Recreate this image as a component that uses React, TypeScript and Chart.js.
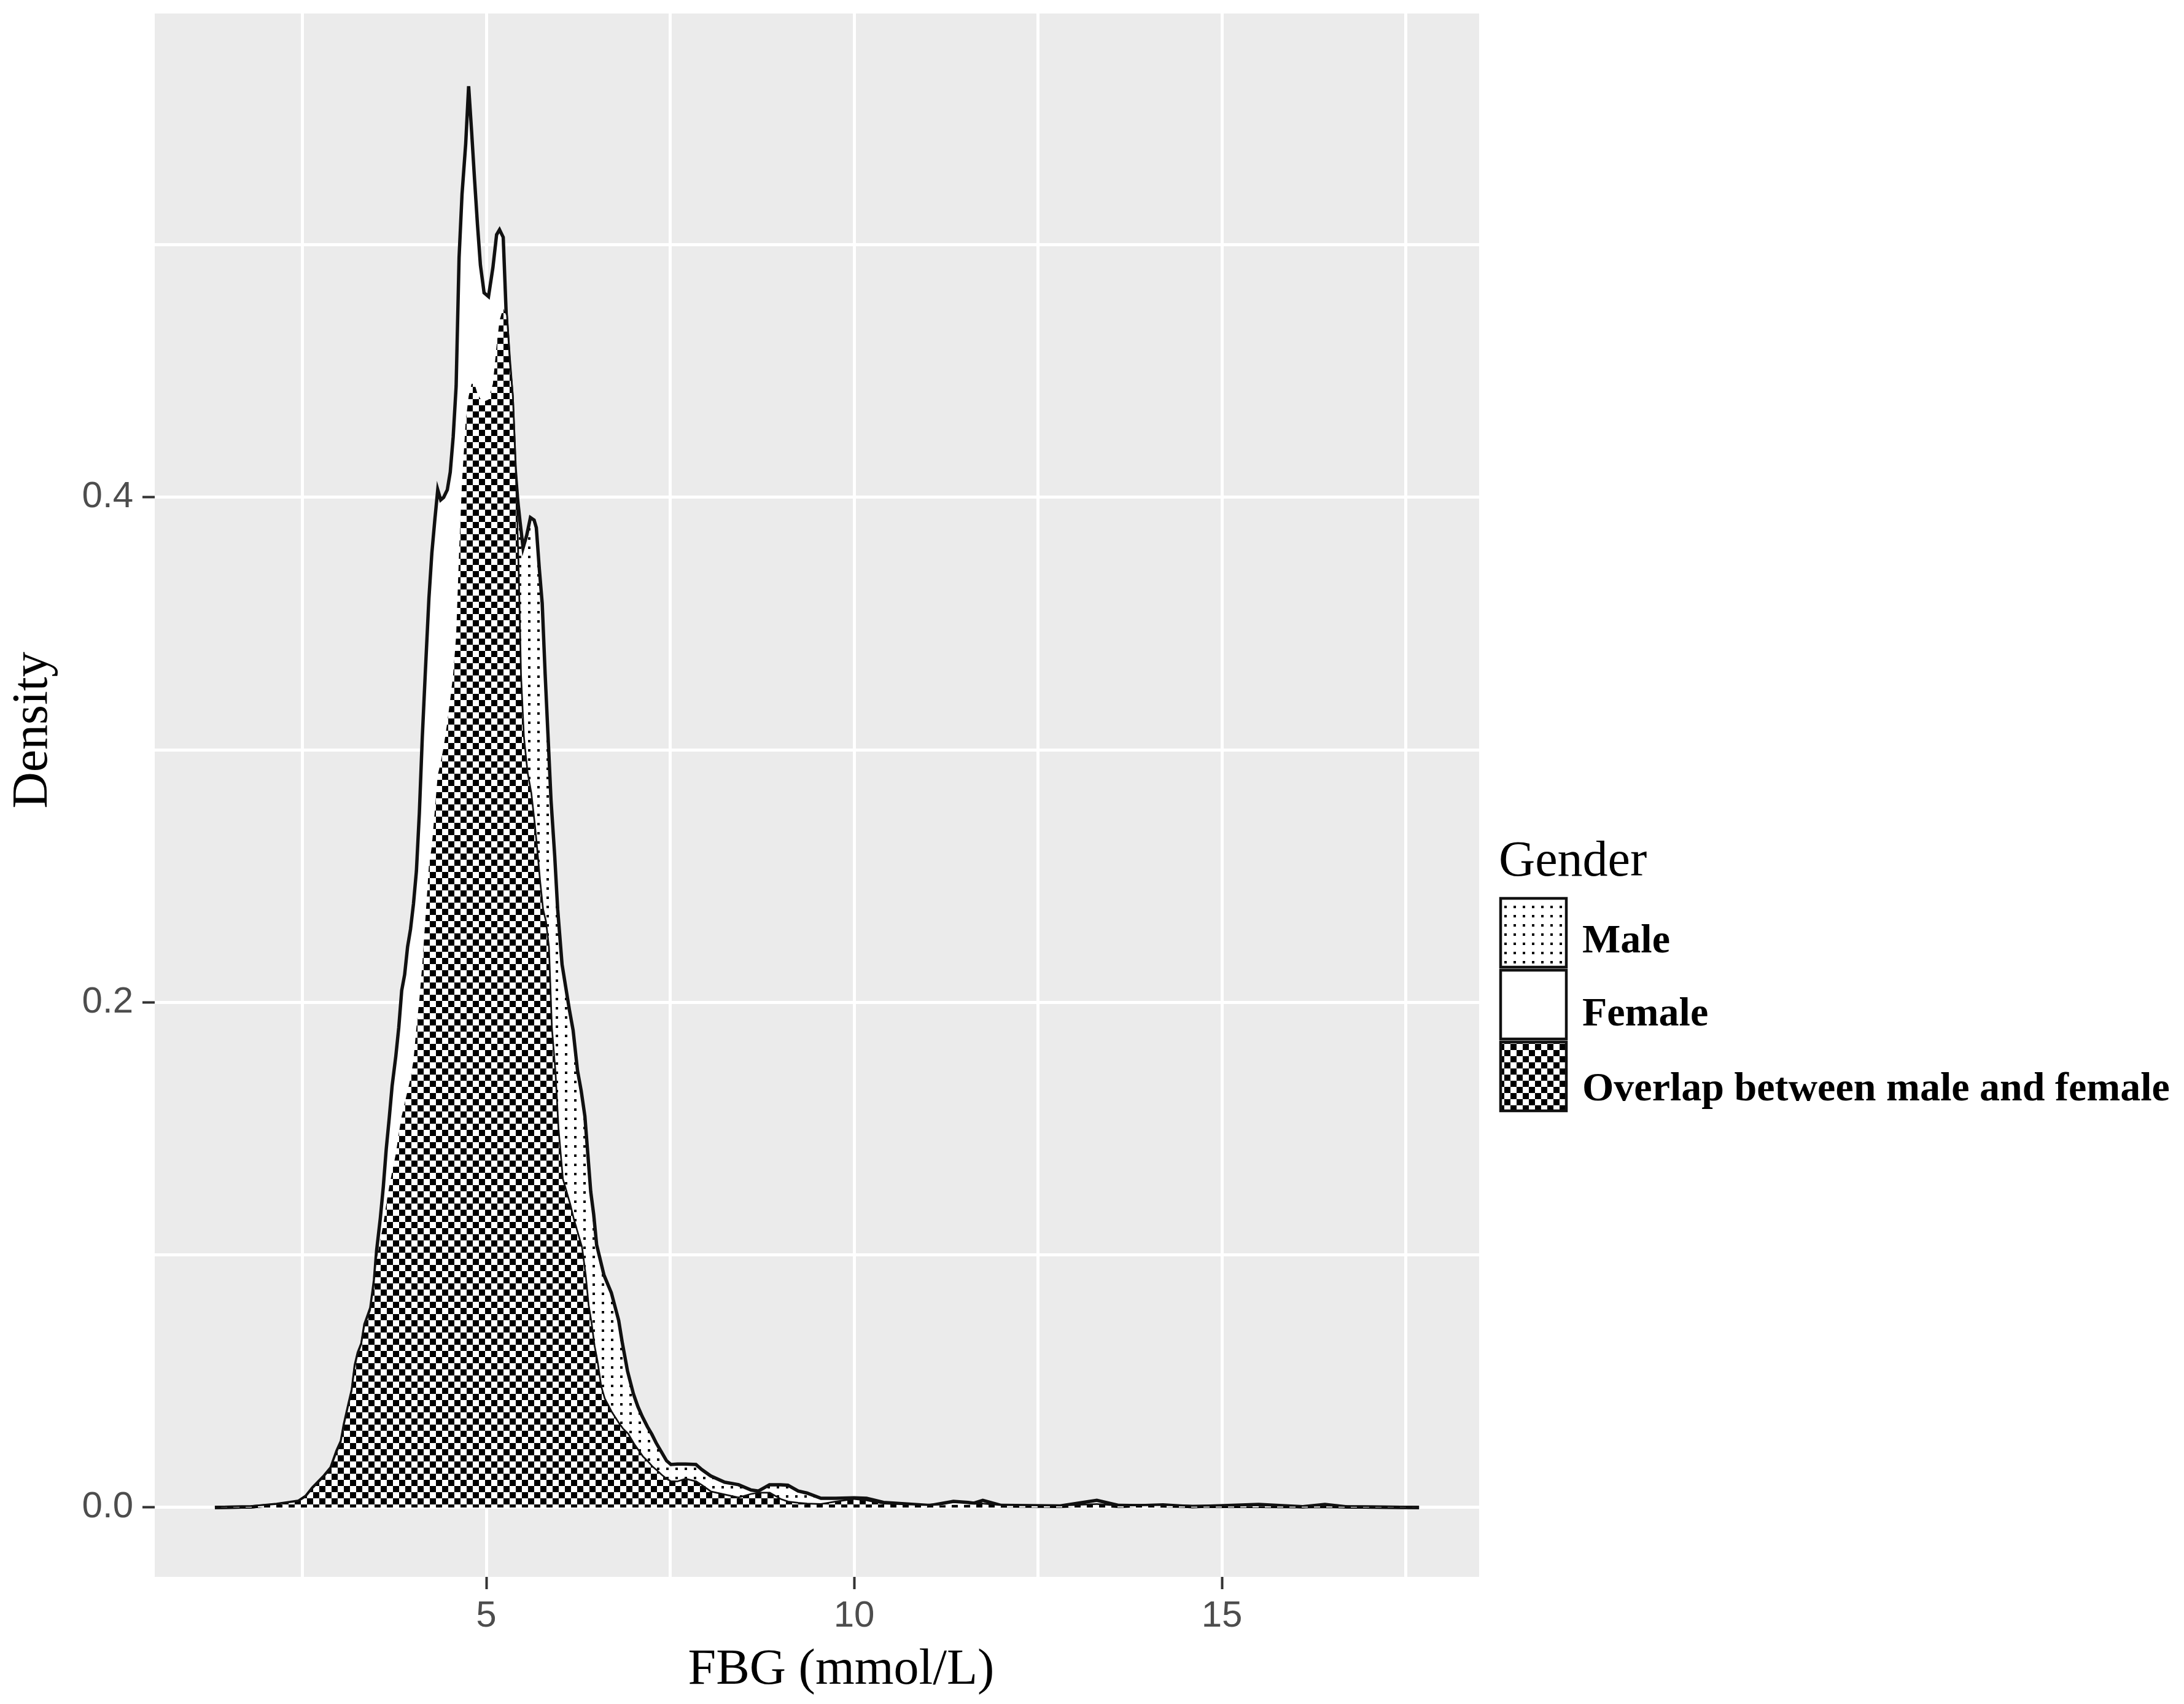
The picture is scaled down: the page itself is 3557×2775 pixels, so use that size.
import React, { useEffect, useRef } from 'react';
import { Chart, registerables } from 'chart.js';

Chart.register(...registerables);

// ---- data ----
const FBG_GRID = [
  1.31, 1.8, 2.15, 2.45, 2.55, 2.64, 2.8, 2.89, 2.97, 3.03, 3.07, 3.14, 3.18, 3.22, 3.26, 3.31, 3.35, 3.43,
  3.48, 3.51, 3.56, 3.6, 3.64, 3.68, 3.72, 3.77, 3.81, 3.85, 3.89, 3.93, 3.97, 4.01, 4.05, 4.09, 4.13,
  4.17, 4.22, 4.26, 4.3, 4.34, 4.38, 4.42, 4.47, 4.51, 4.55, 4.59, 4.63, 4.67, 4.72, 4.76, 4.8, 4.84,
  4.88, 4.92, 4.97, 5.03, 5.09, 5.14, 5.18, 5.23, 5.27, 5.31, 5.35, 5.39, 5.43, 5.46, 5.5, 5.55, 5.6,
  5.65, 5.68, 5.72, 5.76, 5.8, 5.84, 5.88, 5.93, 5.97, 6.03, 6.08, 6.13, 6.18, 6.24, 6.29, 6.34, 6.38,
  6.42, 6.46, 6.5, 6.55, 6.6, 6.7, 6.8, 6.85, 6.92, 7.0, 7.06, 7.12, 7.19, 7.25, 7.31, 7.38, 7.45, 7.51,
  7.6, 7.71, 7.85, 7.93, 8.05, 8.24, 8.43, 8.6, 8.7, 8.85, 9.0, 9.1, 9.24, 9.36, 9.55, 9.75, 10.0, 10.17,
  10.4, 11.0, 11.35, 11.55, 11.75, 12.0, 12.8, 13.3, 13.6, 14.2, 14.6, 15.5, 16.1, 16.4, 16.7, 17.68,
];

const FEMALE_DENSITY = [
  0, 0.0002, 0.0012, 0.0025, 0.0045, 0.0078, 0.0126, 0.0158, 0.0224, 0.0263, 0.0328, 0.0418, 0.0467, 0.0564, 0.0613, 0.065, 0.0725, 0.079,
  0.09, 0.102, 0.1147, 0.127, 0.142, 0.154, 0.167, 0.1787, 0.19, 0.2047, 0.211, 0.222, 0.229, 0.239, 0.252, 0.275, 0.305,
  0.33, 0.36, 0.378, 0.391, 0.403, 0.399, 0.4, 0.403, 0.41, 0.424, 0.444, 0.495, 0.52, 0.54, 0.5628, 0.545, 0.526,
  0.508, 0.492, 0.481, 0.4795, 0.491, 0.504, 0.506, 0.503, 0.473, 0.453, 0.44, 0.41, 0.37, 0.33, 0.305, 0.291, 0.283,
  0.27, 0.261, 0.248, 0.237, 0.232, 0.222, 0.19, 0.172, 0.15, 0.13, 0.125, 0.12, 0.114, 0.108, 0.103, 0.092, 0.08,
  0.073, 0.064, 0.058, 0.048, 0.043, 0.0375, 0.033, 0.031, 0.029, 0.025, 0.0225, 0.02, 0.018, 0.016, 0.0145, 0.0126, 0.011, 0.01,
  0.01, 0.011, 0.01, 0.0085, 0.006, 0.0048, 0.0036, 0.005, 0.0055, 0.0055, 0.003, 0.002, 0.0015, 0.0012, 0.001, 0.002, 0.003, 0.0025,
  0.0012, 0.0006, 0.0024, 0.002, 0.0012, 0.0006, 0.0004, 0.001, 0.0004, 0.001, 0.0003, 0.0012, 0.0003, 0.0004, 0.0002, 0,
];

const MALE_DENSITY = [
  0, 0.0002, 0.001, 0.0022, 0.004, 0.0072, 0.012, 0.0152, 0.0215, 0.0255, 0.032, 0.041, 0.046, 0.0555, 0.0605, 0.0645, 0.0715, 0.078,
  0.088, 0.098, 0.106, 0.112, 0.12, 0.127, 0.133, 0.14, 0.148, 0.155, 0.16, 0.165, 0.17, 0.177, 0.19, 0.201, 0.215,
  0.232, 0.254, 0.262, 0.276, 0.29, 0.295, 0.301, 0.311, 0.32, 0.33, 0.345, 0.378, 0.406, 0.43, 0.44, 0.445, 0.445,
  0.441, 0.439, 0.438, 0.4387, 0.445, 0.46, 0.47, 0.475, 0.472, 0.455, 0.44, 0.412, 0.398, 0.39, 0.38, 0.385, 0.392,
  0.391, 0.388, 0.372, 0.358, 0.33, 0.305, 0.28, 0.258, 0.237, 0.215, 0.206, 0.197, 0.189, 0.173, 0.165, 0.155, 0.14,
  0.125, 0.116, 0.104, 0.098, 0.092, 0.085, 0.074, 0.065, 0.054, 0.045, 0.04, 0.036, 0.032, 0.029, 0.0255, 0.022, 0.0185, 0.017,
  0.0172, 0.0172, 0.017, 0.015, 0.0125, 0.01, 0.009, 0.0069, 0.0065, 0.009, 0.009, 0.0088, 0.0065, 0.0057, 0.0036, 0.0036, 0.0038, 0.0036,
  0.002, 0.0008, 0.001, 0.001, 0.0028, 0.0008, 0.0006, 0.0028, 0.0008, 0.0006, 0.0004, 0.0004, 0.0003, 0.0012, 0.0002, 0,
];

const Y_GRID_TICKS = [0, 0.1, 0.2, 0.3, 0.4, 0.5];
const Y_LABELLED_TICKS = [0, 0.2, 0.4];
const X_GRID_TICKS = [2.5, 5, 7.5, 10, 12.5, 15, 17.5];
const X_LABELLED_TICKS = [5, 10, 15];

const SERIES_LABELS = ['Male', 'Female', 'Overlap between male and female'];
const LEGEND_TITLE = 'Gender';
const X_TITLE = 'FBG (mmol/L)';
const Y_TITLE = 'Density';

// ---- layout / style ----
const W = 3557;
const H = 2775;
const PANEL = { left: 252, top: 22, right: 2409, bottom: 2568 };
const X_RANGE = { min: 0.4925, max: 18.497 };
const Y_RANGE = { min: -0.0275, max: 0.5916 };
const LINE = '#111111';
const SERIF = "'Liberation Serif', 'Times New Roman', serif";
const SANS = "'Liberation Sans', Arial, sans-serif";

function makeDots(): CanvasPattern | string {
  const c = document.createElement('canvas');
  c.width = 15;
  c.height = 15;
  const g = c.getContext('2d');
  if (!g) return '#ffffff';
  g.fillStyle = '#ffffff';
  g.fillRect(0, 0, 15, 15);
  g.fillStyle = '#000000';
  g.fillRect(5, 5, 4, 4);
  return g.createPattern(c, 'repeat') || '#ffffff';
}

function makeChecker(): CanvasPattern | string {
  const c = document.createElement('canvas');
  c.width = 20;
  c.height = 20;
  const g = c.getContext('2d');
  if (!g) return '#000000';
  g.fillStyle = '#ffffff';
  g.fillRect(0, 0, 20, 20);
  g.fillStyle = '#000000';
  g.fillRect(0, 0, 10, 10);
  g.fillRect(10, 10, 10, 10);
  return g.createPattern(c, 'repeat') || '#000000';
}

export default function App() {
  const ref = useRef<HTMLCanvasElement>(null);

  useEffect(() => {
    const canvas = ref.current;
    if (!canvas) return;
    const dots = makeDots();
    const checker = makeChecker();

    const malePts = FBG_GRID.map((x, i) => ({ x, y: MALE_DENSITY[i] }));
    const femalePts = FBG_GRID.map((x, i) => ({ x, y: FEMALE_DENSITY[i] }));
    const overlapPts = FBG_GRID.map((x, i) => ({ x, y: Math.min(MALE_DENSITY[i], FEMALE_DENSITY[i]) }));
    const fills = [dots, '#ffffff', checker];

    const backgroundPlugin = {
      id: 'panelBackground',
      beforeDraw(chart: any) {
        const { ctx, chartArea } = chart;
        ctx.save();
        ctx.fillStyle = '#ffffff';
        ctx.fillRect(0, 0, chart.width, chart.height);
        ctx.fillStyle = '#EBEBEB';
        ctx.fillRect(chartArea.left, chartArea.top, chartArea.right - chartArea.left, chartArea.bottom - chartArea.top);
        ctx.restore();
      },
    };

    const textPlugin = {
      id: 'titlesAndLegend',
      afterDraw(chart: any) {
        const { ctx } = chart;
        ctx.save();
        ctx.fillStyle = '#000000';
        ctx.textBaseline = 'alphabetic';
        // axis titles
        ctx.font = `82px ${SERIF}`;
        ctx.textAlign = 'center';
        ctx.fillText(X_TITLE, 1370, 2742);
        ctx.save();
        ctx.translate(76, 1189);
        ctx.rotate(-Math.PI / 2);
        ctx.fillText(Y_TITLE, 0, 0);
        ctx.restore();
        // legend
        ctx.textAlign = 'left';
        ctx.fillText(LEGEND_TITLE, 2441, 1426);
        const boxTops = [1463, 1580, 1697];
        const baselines = [1551, 1670, 1792];
        ctx.font = `bold 66px ${SERIF}`;
        SERIES_LABELS.forEach((label, i) => {
          ctx.fillStyle = fills[i] as any;
          ctx.fillRect(2444, boxTops[i], 107, 112);
          ctx.strokeStyle = LINE;
          ctx.lineWidth = 4.5;
          ctx.strokeRect(2444, boxTops[i], 107, 112);
          ctx.fillStyle = '#000000';
          ctx.fillText(label, 2577, baselines[i]);
        });
        ctx.restore();
      },
    };

    const chart = new Chart(canvas, {
      type: 'line',
      data: {
        datasets: [
          {
            label: SERIES_LABELS[0],
            data: malePts,
            backgroundColor: dots as any,
            borderColor: LINE,
            borderWidth: 5.5,
            fill: 'origin',
            pointRadius: 0,
            tension: 0,
            order: 3,
          },
          {
            label: SERIES_LABELS[1],
            data: femalePts,
            backgroundColor: '#ffffff',
            borderColor: LINE,
            borderWidth: 5.5,
            fill: 'origin',
            pointRadius: 0,
            tension: 0,
            order: 2,
          },
          {
            label: SERIES_LABELS[2],
            data: overlapPts,
            backgroundColor: checker as any,
            borderColor: 'rgba(0,0,0,0)',
            borderWidth: 0,
            fill: 'origin',
            pointRadius: 0,
            tension: 0,
            order: 1,
          },
        ],
      },
      options: {
        animation: false,
        responsive: false,
        devicePixelRatio: 1,
        parsing: false,
        normalized: true,
        events: [],
        layout: { padding: { left: 0, top: PANEL.top, right: W - PANEL.right, bottom: 0 } },
        plugins: { legend: { display: false }, tooltip: { enabled: false }, title: { display: false } },
        scales: {
          x: {
            type: 'linear',
            min: X_RANGE.min,
            max: X_RANGE.max,
            afterBuildTicks: (s: any) => {
              s.ticks = X_GRID_TICKS.map((v) => ({ value: v }));
            },
            afterFit: (s: any) => {
              s.height = H - PANEL.bottom;
              s.paddingLeft = 0;
              s.paddingRight = 0;
            },
            border: { display: false },
            grid: {
              color: '#ffffff',
              lineWidth: 5,
              drawTicks: true,
              tickLength: 20,
              tickWidth: 4,
              tickColor: (ctx: any) => (ctx.tick && X_LABELLED_TICKS.includes(ctx.tick.value) ? '#333333' : 'rgba(0,0,0,0)'),
            },
            ticks: {
              autoSkip: false,
              maxRotation: 0,
              padding: 8,
              color: '#4D4D4D',
              font: { family: SANS, size: 60 },
              callback: (v: any) => (X_LABELLED_TICKS.includes(Number(v)) ? String(v) : ''),
            },
          },
          y: {
            type: 'linear',
            min: Y_RANGE.min,
            max: Y_RANGE.max,
            afterBuildTicks: (s: any) => {
              s.ticks = Y_GRID_TICKS.map((v) => ({ value: v }));
            },
            afterFit: (s: any) => {
              s.width = PANEL.left;
              s.paddingTop = 0;
              s.paddingBottom = 0;
            },
            border: { display: false },
            grid: {
              color: '#ffffff',
              lineWidth: 5,
              drawTicks: true,
              tickLength: 20,
              tickWidth: 4,
              tickColor: (ctx: any) => (ctx.tick && Y_LABELLED_TICKS.includes(ctx.tick.value) ? '#333333' : 'rgba(0,0,0,0)'),
            },
            ticks: {
              autoSkip: false,
              padding: 15,
              color: '#4D4D4D',
              font: { family: SANS, size: 60 },
              callback: (v: any) => (Y_LABELLED_TICKS.includes(Number(v)) ? Number(v).toFixed(1) : ''),
            },
          },
        },
      },
      plugins: [backgroundPlugin, textPlugin],
    } as any);

    return () => chart.destroy();
  }, []);

  return (
    <div style={{ position: 'absolute', left: 0, top: 0, width: W, height: H, background: '#ffffff' }}>
      <canvas ref={ref} width={W} height={H} style={{ width: W, height: H, display: 'block' }} />
    </div>
  );
}
